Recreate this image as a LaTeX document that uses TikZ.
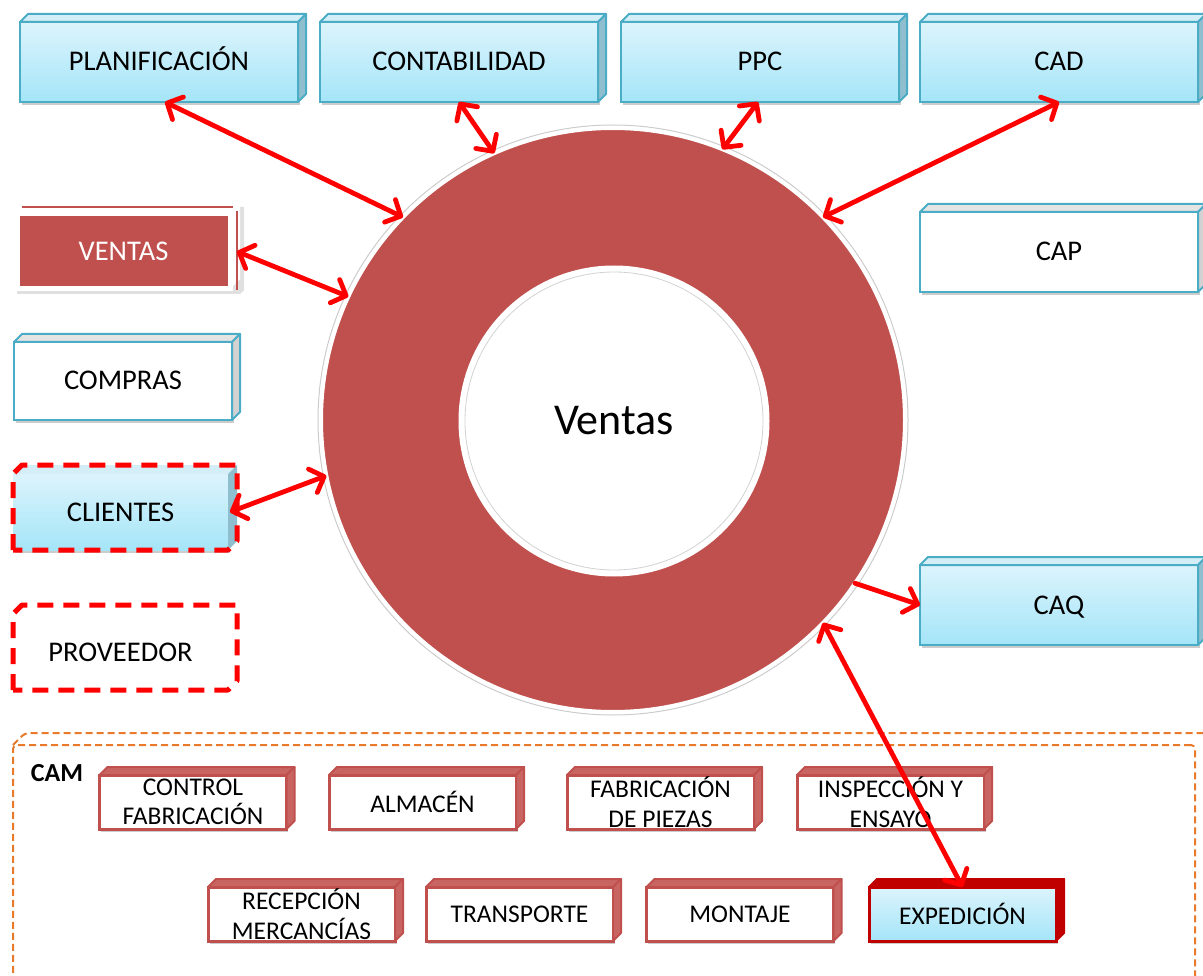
\documentclass[tikz,border=0pt]{standalone}
\usepackage{fontspec}
\setmainfont{Carlito}
\usetikzlibrary{arrows.meta,shadows}

\definecolor{ringred}{HTML}{C0504D}
\definecolor{edgeblue}{HTML}{4BACC6}
\definecolor{skytop}{HTML}{DCF4FC}
\definecolor{skybot}{HTML}{A4E5F8}
\definecolor{lidblue}{HTML}{D3EEF6}
\definecolor{sideblue}{HTML}{8FBFCE}
\definecolor{lidgray}{HTML}{E4E4E4}
\definecolor{sidegray}{HTML}{D2D2D2}
\definecolor{arrowred}{HTML}{FF0000}
\definecolor{camorange}{HTML}{E9792B}
\definecolor{expred}{HTML}{C00000}

% lid and right side of a bevelled block, hung on the front node #1
\newcommand\blockfaces[4]{%
  \path[#3] (#1.north west) -- ++(#2,-#2) -- ([shift={(#2,-#2)}]#1.north east)
    -- (#1.north east) -- cycle;
  \path[#4] (#1.north east) -- ++(#2,-#2) -- ([shift={(#2,-#2)}]#1.south east)
    -- (#1.south east) -- cycle;
}
% dashed outline around a whole bevelled block
\newcommand\blockoutline[3]{%
  \path[#3] (#1.south west) -- (#1.north west) -- ++(#2,-#2)
    -- ([shift={(#2,-#2)}]#1.north east) -- ([shift={(#2,-#2)}]#1.south east)
    -- (#1.south east) -- cycle;
}

\tikzset{
  barbtip/.tip={Straight Barb[length=12pt, width=25pt, round]},
  base/.style={rectangle, inner sep=0pt, outer sep=0pt, align=center, text=black},
  softshadow/.style={drop shadow={shadow xshift=1.5pt, shadow yshift=-3pt, opacity=0.2, fill=black}},
  bigfont/.style={font=\fontsize{28.5}{31}\selectfont, text height=22pt, text depth=4pt},
  camfont/.style={font=\fontsize{25.5}{29.5}\selectfont},
  skybox/.style={base, bigfont, draw=edgeblue, line width=2pt, top color=skytop,
    bottom color=skybot, minimum width=278pt, minimum height=80pt, softshadow},
  plainbox/.style={base, bigfont, draw=edgeblue, line width=2pt, fill=white,
    minimum width=278pt, minimum height=80pt, softshadow},
  skylid/.style={fill=lidblue, draw=edgeblue, line width=2pt, line join=round},
  skyside/.style={fill=sideblue, draw=edgeblue, line width=2pt, line join=round},
  graylid/.style={fill=lidgray, draw=edgeblue, line width=2pt, line join=round},
  grayside/.style={fill=sidegray, draw=edgeblue, line width=2pt, line join=round},
  camblock/.style={base, camfont, draw=ringred, line width=3pt, fill=white,
    minimum width=187pt, minimum height=54pt, softshadow},
  camlid/.style={fill=ringred!88!white, draw=ringred, line width=2pt, line join=round},
  redlid/.style={fill=expred, draw=expred, line width=2pt, line join=round},
  reddash/.style={draw=arrowred, line width=5pt, dash pattern=on 16pt off 10pt,
    line join=round},
  orangedash/.style={draw=camorange, line width=2pt, dash pattern=on 7pt off 4pt,
    rounded corners=4pt},
  link/.style={draw=arrowred, line width=4.8pt, line cap=round, barbtip-barbtip},
  onelink/.style={draw=arrowred, line width=4.8pt, line cap=round, -barbtip},
}

\begin{document}
\begin{tikzpicture}[x=1pt, y=-1pt]
\useasboundingbox (0,0) rectangle (1203,976);
\fill[white] (0,0) rectangle (1203,976);

% ---- central ring ----
\draw[gray!40, line width=1pt] (613,420) circle[radius=295pt];
\node[circle, fill=ringred, draw=white, line width=4pt, minimum size=584pt,
      inner sep=0pt, outer sep=0pt] (ring) at (613,420) {};
\node[circle, fill=white, draw=white, line width=5pt, minimum size=306pt,
      inner sep=0pt, outer sep=0pt, font=\fontsize{44}{46}\selectfont] (hub) at (614,421) {Ventas};
\draw[gray!35, line width=0.8pt] (hub.center) circle[radius=149pt];

% ---- top row ----
\node[skybox] (plan) at (159,62) {PLANIFICACIÓN};
\blockfaces{plan}{8}{skylid}{skyside}
\node[skybox] (cont) at (459,62) {CONTABILIDAD};
\blockfaces{cont}{8}{skylid}{skyside}
\node[skybox] (ppc) at (760,62) {PPC};
\blockfaces{ppc}{8}{skylid}{skyside}
\node[skybox] (cad) at (1059,62) {CAD};
\blockfaces{cad}{8}{skylid}{skyside}

% ---- right column ----
\node[plainbox] (cap) at (1059,252) {CAP};
\blockfaces{cap}{8}{graylid}{grayside}
\node[skybox] (caq) at (1059,605) {CAQ};
\blockfaces{caq}{8}{skylid}{skyside}

% ---- left column ----
\fill[black, opacity=0.12] (17,216) -- (17,294) -- (240,294) -- (244,290) -- (244,207) -- (238,207) -- (238,216) -- cycle;
\node[base, bigfont, fill=ringred, draw=white, line width=5pt, minimum width=213pt,
      minimum height=75pt, text=white] (ventas) at (123.5,251.5) {VENTAS};
\blockfaces{ventas}{10}{fill=white}{fill=white}
\draw[ringred, line width=1.2pt] ([shift={(5,-7)}]ventas.north west) -- ([shift={(3,-7)}]ventas.north east);
\draw[ringred, line width=1.2pt] ([shift={(7,-3)}]ventas.north east) -- ([shift={(7,1)}]ventas.south east);

\node[plainbox, minimum width=218pt, minimum height=78pt] (compras) at (123,381) {COMPRAS};
\blockfaces{compras}{8}{graylid}{grayside}

\node[base, bigfont, top color=skytop, bottom color=skybot, minimum width=215pt,
      minimum height=76pt, softshadow] (clientes) at (120.5,512) {CLIENTES};
\blockfaces{clientes}{9}{fill=lidblue}{fill=sideblue}
\blockoutline{clientes}{9}{reddash}

\node[base, bigfont, fill=white, minimum width=215pt, minimum height=76pt] (prov) at (120.5,652) {PROVEEDOR};
\blockoutline{prov}{9}{reddash}

% ---- CAM area ----
\node[base, orangedash, minimum width=1182pt, minimum height=270pt] (cam) at (604,880) {};
\draw[orangedash] (cam.north west) -- ++(12,-12) -- ([shift={(12,-12)}]cam.north east)
  -- ([shift={(12,-12)}]cam.south east);
\node[base, font=\bfseries\fontsize{26}{28}\selectfont] (camlabel) at (57,773) {CAM};

\node[camblock] (ctrl) at (193,802) {CONTROL\\FABRICACIÓN};
\blockfaces{ctrl}{8}{camlid}{camlid}
\node[camblock] (alm) at (422.5,802) {ALMACÉN};
\blockfaces{alm}{8}{camlid}{camlid}
\node[camblock] (fab) at (660.5,802) {FABRICACIÓN\\DE PIEZAS};
\blockfaces{fab}{8}{camlid}{camlid}
\node[camblock] (insp) at (890.5,802) {INSPECCIÓN Y\\ENSAYO};
\blockfaces{insp}{8}{camlid}{camlid}

\node[camblock] (recep) at (301.5,914) {RECEPCIÓN\\MERCANCÍAS};
\blockfaces{recep}{8}{camlid}{camlid}
\node[camblock] (trans) at (519.5,914) {TRANSPORTE};
\blockfaces{trans}{8}{camlid}{camlid}
\node[camblock] (mont) at (740,914) {MONTAJE};
\blockfaces{mont}{8}{camlid}{camlid}
\node[camblock, draw=expred, top color=skytop, bottom color=skybot] (exped) at (962.5,914) {EXPEDICIÓN};
\blockfaces{exped}{8}{redlid}{redlid}

% ---- connectors ----
\draw[link] ([xshift=6pt]plan.south) -- (ring.136);
\draw[link] (cont.south) -- (ring.114);
\draw[link] ([xshift=-2pt]ppc.south) -- (ring.68);
\draw[link] (cad.south) -- (ring.44);
\draw[link] ([xshift=7pt]ventas.east) -- (ring.155);
\draw[link] ([xshift=2pt]clientes.east) -- (ring.191);
\draw[onelink] (ring.-34) -- (caq.west);
\draw[link] (ring.-44) -- (exped.north);
\end{tikzpicture}
\end{document}
